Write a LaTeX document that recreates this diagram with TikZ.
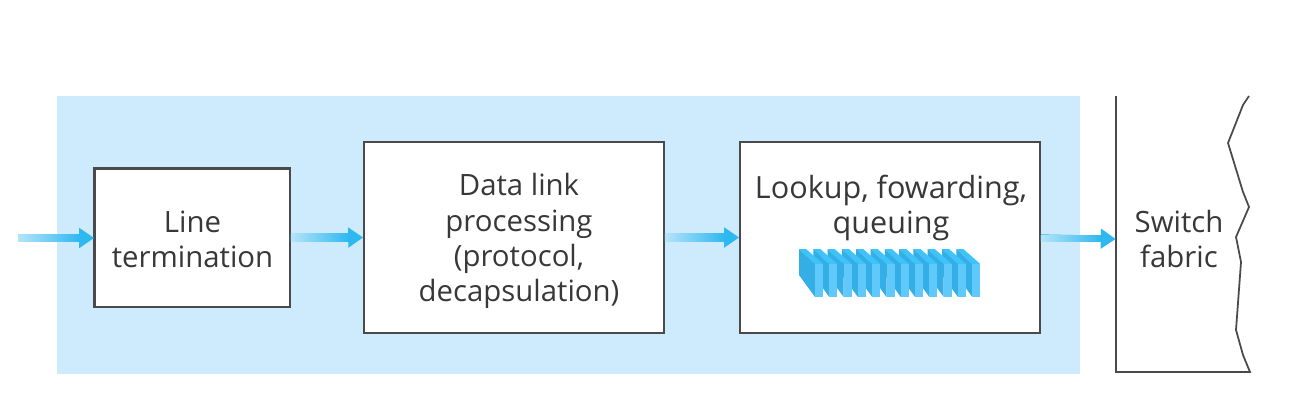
\documentclass[tikz,border=0pt]{standalone}
\usepackage{fontspec}
\setmainfont{Open Sans}
\usetikzlibrary{arrows.meta, calc}
\definecolor{portbg}{HTML}{CDEBFD}
\definecolor{flowblue}{HTML}{2DB8F0}
\definecolor{flowlight}{HTML}{B5E4FA}
\definecolor{boxline}{HTML}{4A4A4A}
\definecolor{labeltext}{HTML}{383838}
\definecolor{slabside}{HTML}{35AEE5}
\definecolor{slabfront}{HTML}{5FC9FC}
\definecolor{slabtop}{HTML}{3CC4FB}
\tikzset{
  stage/.style={draw=boxline, line width=1pt, fill=white, inner sep=0pt},
  stagelabel/.style={align=center, text=labeltext, inner sep=0pt,
                     font=\fontsize{16.7}{20}\selectfont},
  flow/.style={-{Triangle[length=8.5pt, width=11pt]}, draw=flowblue, line width=3.6pt},
}
\begin{document}
\begin{tikzpicture}[x=0.02cm, y=-0.02cm]
  \useasboundingbox (0,0) rectangle (1308,416);
  % Input port
  \fill[portbg] (57,96) rectangle (1080,374);

  % Stages
  \node[stage, minimum width=3.9cm, minimum height=2.76cm] (line) at (192.5,238) {};
  \draw[boxline, line width=1.8pt] (line.south west) -- (line.north west) -- (line.north east);
  \node[stagelabel] (linelabel) at (192.5,239) {Line\\termination};
  \node[stage, minimum width=6cm, minimum height=3.82cm] (link) at (514,237.5) {};
  \node[stagelabel] (linklabel) at (519,241) {Data link\\processing\\(protocol,\\decapsulation)};
  \node[stage, minimum width=6cm, minimum height=3.82cm] (lookup) at (890,237.5) {};
  \node[stagelabel, font=\fontsize{17.4}{20}\selectfont] (lookuplabel) at (891,208)
    {Lookup, fowarding,\\queuing};

  % Queue
  \foreach \i in {11,10,...,0} {
    \pgfmathsetmacro{\x}{799+\i*14.3}
    \fill[slabtop] (\x,249) -- ++(7,0) -- ++(17,15) -- ++(-8,0) -- cycle;
    \fill[slabside] (\x,249) -- ++(16,15) -- ++(0,33) -- ++(-16,-22) -- cycle;
    \fill[slabfront] (\x+16,264) rectangle (\x+24,297);
  }

  % Switch fabric
  \draw[boxline, line width=1pt] (1116,96) -- (1116,372) -- (1250,372) -- (1243,355) -- (1236,330)
    -- (1241,262) -- (1236,237) -- (1249,207) -- (1243,192) -- (1228,143) -- (1243,105) -- (1249,96);
  \node[stagelabel, minimum width=2.52cm, minimum height=5.36cm] (fabric) at (1179,239)
    {Switch\\fabric};

  % Arrows
  \coordinate (inlet) at (18,238);
  \foreach \a/\b in {inlet/line.west, line.east/link.west, link.east/lookup.west, lookup.east/fabric.west} {
    \draw[flow] (\a) -- (\b);
    \shade[left color=flowlight, middle color=flowblue, right color=flowblue]
      ($(\a)+(0,-2pt)$) rectangle ($(\b)+(-8pt,2pt)$);
  }
\end{tikzpicture}
\end{document}
